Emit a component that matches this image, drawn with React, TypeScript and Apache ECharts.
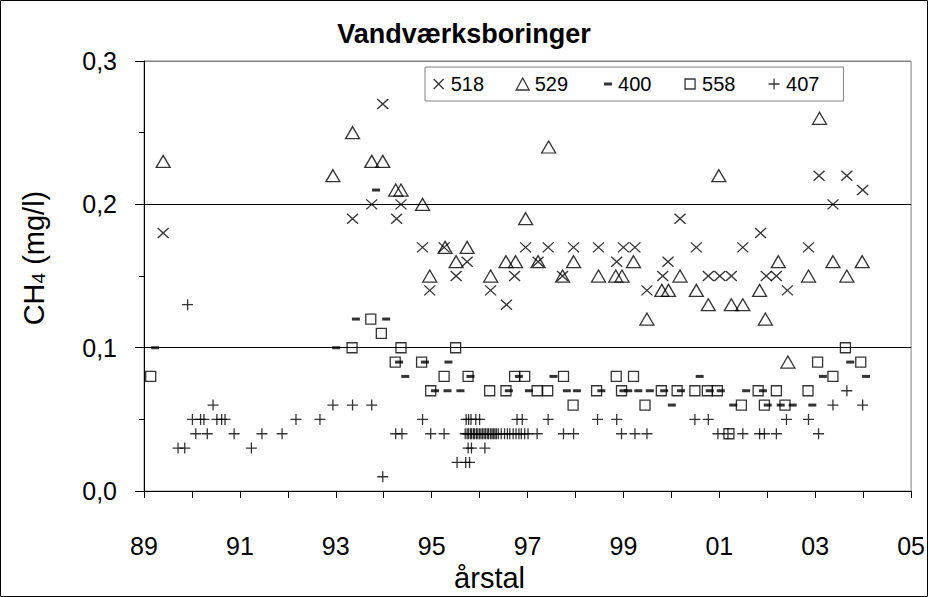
import React, { useEffect, useRef } from 'react';
import * as echarts from 'echarts';

// Measurements per well: [year, CH4 mg/l]
const well518: [number, number][] = [
  [1989.40, 0.18], [1993.35, 0.19], [1993.75, 0.20], [1993.98, 0.27], [1994.27, 0.19],
  [1994.36, 0.20], [1994.81, 0.17], [1994.96, 0.14], [1995.26, 0.17], [1995.51, 0.15],
  [1995.74, 0.16], [1996.23, 0.14], [1996.56, 0.13], [1996.73, 0.15], [1996.96, 0.17],
  [1997.22, 0.16], [1997.43, 0.17], [1997.73, 0.15], [1997.96, 0.17], [1998.48, 0.17],
  [1998.86, 0.16], [1999.00, 0.17], [1999.24, 0.17], [1999.49, 0.14], [1999.82, 0.15],
  [1999.93, 0.16], [2000.18, 0.19], [2000.52, 0.17], [2000.77, 0.15], [2001.01, 0.15],
  [2001.25, 0.15], [2001.49, 0.17], [2001.86, 0.18], [2001.98, 0.15], [2002.19, 0.15],
  [2002.42, 0.14], [2002.86, 0.17], [2003.08, 0.22], [2003.37, 0.20], [2003.66, 0.22],
  [2003.99, 0.21],
];

const well529: [number, number][] = [
  [1989.40, 0.23], [1992.94, 0.22], [1993.35, 0.25], [1993.75, 0.23], [1993.98, 0.23],
  [1994.25, 0.21], [1994.36, 0.21], [1994.81, 0.20], [1994.96, 0.15], [1995.28, 0.17],
  [1995.51, 0.16], [1995.74, 0.17], [1996.23, 0.15], [1996.55, 0.16], [1996.75, 0.16],
  [1996.96, 0.19], [1997.22, 0.16], [1997.44, 0.24], [1997.73, 0.15], [1997.96, 0.16],
  [1998.48, 0.15], [1998.84, 0.15], [1998.97, 0.15], [1999.21, 0.16], [1999.49, 0.12],
  [1999.80, 0.14], [1999.94, 0.14], [2000.18, 0.15], [2000.52, 0.14], [2000.77, 0.13],
  [2000.99, 0.22], [2001.25, 0.13], [2001.49, 0.13], [2001.84, 0.14], [2001.96, 0.12],
  [2002.23, 0.16], [2002.43, 0.09], [2002.86, 0.15], [2003.09, 0.26], [2003.37, 0.16],
  [2003.66, 0.15], [2003.98, 0.16],
];

const well400: [number, number][] = [
  [1989.23, 0.10], [1993.01, 0.10], [1993.42, 0.12], [1993.84, 0.21], [1994.05, 0.12],
  [1994.32, 0.09], [1994.45, 0.08], [1994.86, 0.09], [1995.07, 0.07], [1995.33, 0.07],
  [1995.35, 0.09], [1995.60, 0.07], [1995.81, 0.08], [1996.61, 0.07], [1996.82, 0.08],
  [1997.03, 0.07], [1997.54, 0.08], [1997.82, 0.07], [1998.03, 0.07], [1998.54, 0.07],
  [1999.00, 0.07], [1999.10, 0.07], [1999.31, 0.07], [1999.55, 0.07], [1999.85, 0.07],
  [2000.01, 0.06], [2000.20, 0.07], [2000.59, 0.08], [2000.80, 0.07], [2001.03, 0.07],
  [2001.29, 0.06], [2001.56, 0.07], [2001.91, 0.07], [2002.01, 0.06], [2002.28, 0.06],
  [2002.53, 0.06], [2002.94, 0.06], [2003.16, 0.08], [2003.73, 0.09], [2004.06, 0.08],
];

const well558: [number, number][] = [
  [1989.14, 0.08], [1993.34, 0.10], [1993.73, 0.12], [1993.95, 0.11], [1994.24, 0.09],
  [1994.36, 0.10], [1994.79, 0.09], [1994.98, 0.07], [1995.26, 0.08], [1995.50, 0.10],
  [1995.76, 0.08], [1996.21, 0.07], [1996.55, 0.07], [1996.73, 0.08], [1996.94, 0.08],
  [1997.20, 0.07], [1997.42, 0.07], [1997.75, 0.08], [1997.95, 0.06], [1998.44, 0.07],
  [1998.85, 0.08], [1998.96, 0.07], [1999.21, 0.08], [1999.45, 0.06], [1999.79, 0.07],
  [2000.12, 0.07], [2000.49, 0.07], [2000.75, 0.07], [2000.96, 0.07], [2001.20, 0.04],
  [2001.46, 0.06], [2001.81, 0.07], [2001.94, 0.06], [2002.19, 0.07], [2002.37, 0.06],
  [2002.85, 0.07], [2003.05, 0.09], [2003.37, 0.08], [2003.63, 0.10], [2003.95, 0.09],
];

const well407: [number, number][] = [
  [1989.71, 0.03], [1989.85, 0.03], [1989.91, 0.13], [1990.01, 0.05], [1990.08, 0.04],
  [1990.18, 0.05], [1990.25, 0.05], [1990.32, 0.04], [1990.44, 0.06], [1990.52, 0.05],
  [1990.62, 0.05], [1990.69, 0.05], [1990.88, 0.04], [1991.24, 0.03], [1991.46, 0.04],
  [1991.88, 0.04], [1992.17, 0.05], [1992.67, 0.05], [1992.94, 0.06], [1993.35, 0.06],
  [1993.75, 0.06], [1993.98, 0.01], [1994.25, 0.04], [1994.38, 0.04], [1994.81, 0.05],
  [1994.98, 0.04], [1995.26, 0.04], [1995.53, 0.02], [1995.71, 0.02], [1995.79, 0.02],
  [1995.76, 0.03], [1995.83, 0.03], [1996.11, 0.03], [1995.72, 0.05], [1995.77, 0.05],
  [1995.82, 0.05], [1995.92, 0.05], [1996.00, 0.05],
  [1995.70, 0.04], [1995.74, 0.04], [1995.77, 0.04], [1995.81, 0.04], [1995.83, 0.04],
  [1995.87, 0.04], [1995.89, 0.04], [1995.93, 0.04], [1995.95, 0.04], [1995.99, 0.04],
  [1996.01, 0.04], [1996.05, 0.04], [1996.07, 0.04], [1996.11, 0.04], [1996.13, 0.04],
  [1996.17, 0.04], [1996.19, 0.04], [1996.23, 0.04], [1996.26, 0.04], [1996.29, 0.04],
  [1996.32, 0.04], [1996.35, 0.04], [1996.39, 0.04], [1996.45, 0.04], [1996.52, 0.04],
  [1996.58, 0.04], [1996.63, 0.04], [1996.70, 0.04], [1996.76, 0.04], [1996.82, 0.04],
  [1996.87, 0.04], [1996.94, 0.04], [1997.01, 0.04],
  [1996.78, 0.05], [1996.89, 0.05], [1997.20, 0.04], [1997.43, 0.05], [1997.75, 0.04],
  [1997.96, 0.04], [1998.46, 0.05], [1998.86, 0.05], [1998.96, 0.04], [1999.24, 0.04],
  [1999.49, 0.04], [2000.49, 0.05], [2000.77, 0.05], [2000.97, 0.04], [2001.18, 0.04],
  [2001.49, 0.04], [2001.84, 0.04], [2001.94, 0.04], [2002.19, 0.04], [2002.40, 0.05],
  [2002.86, 0.05], [2003.07, 0.04], [2003.37, 0.06], [2003.66, 0.07], [2003.99, 0.06],
];

const seriesNames = ['518', '529', '400', '558', '407'];
const xTickLabels = ['89', '91', '93', '95', '97', '99', '01', '03', '05'];
const yTickLabels = ['0,0', '0,1', '0,2', '0,3'];

const FONT = '"Liberation Sans", Arial, sans-serif';

const CROSS = 'path://M0,0L10,10M10,0L0,10';
const PLUS = 'path://M5,0L5,10M0,5L10,5';

const CROSS_ICON = 'path://M0,0M14,14M2,2L12,12M12,2L2,12';
const TRI_ICON = 'path://M0,0M14,14M7,1L13.5,13L0.5,13Z';
const DASH_ICON = 'path://M0,0M14,14M5,5.5L13,5.5L13,8.5L5,8.5Z';
const SQ_ICON = 'path://M0,0M14,14M2,2L12,2L12,12L2,12Z';
const PLUS_ICON = 'path://M0,0M14,14M7,1.5L7,12.5M1.5,7L12.5,7';

export default function App() {
  const ref = useRef<HTMLDivElement>(null);

  useEffect(() => {
    if (!ref.current) return;
    const chart = echarts.init(ref.current, null, { renderer: 'svg' });

    const hollow = { color: 'rgba(0,0,0,0)', borderColor: '#000', borderWidth: 1.3 };
    const solid = { color: '#000', borderWidth: 0 };

    chart.setOption({
      animation: false,
      backgroundColor: '#fff',
      title: {
        text: 'Vandværksboringer',
        left: 'center',
        top: 15,
        textStyle: { fontFamily: FONT, fontWeight: 'bold', fontSize: 27, color: '#000' },
      },
      legend: {
        left: 425,
        top: 67,
        orient: 'horizontal',
        backgroundColor: '#fff',
        borderColor: '#808080',
        borderWidth: 1,
        borderRadius: 0,
        padding: [7, 24, 7, 6],
        itemGap: 31,
        itemWidth: 14,
        itemHeight: 14,
        textStyle: { fontFamily: FONT, fontSize: 20, color: '#000' },
        data: [
          { name: seriesNames[0], icon: CROSS_ICON, itemStyle: hollow },
          { name: seriesNames[1], icon: TRI_ICON, itemStyle: hollow },
          { name: seriesNames[2], icon: DASH_ICON, itemStyle: solid },
          { name: seriesNames[3], icon: SQ_ICON, itemStyle: hollow },
          { name: seriesNames[4], icon: PLUS_ICON, itemStyle: hollow },
        ],
      },
      graphic: [
        {
          type: 'rect',
          shape: { x: 0.5, y: 0.5, width: 927, height: 596 },
          style: { fill: 'none', stroke: '#000', lineWidth: 1 },
          silent: true,
          z: -1,
        },
      ],
      grid: {
        left: 144,
        right: 14,
        top: 61,
        bottom: 101,
        show: true,
        borderColor: '#808080',
        borderWidth: 1,
        backgroundColor: 'transparent',
      },
      xAxis: {
        type: 'value',
        min: 1989,
        max: 2005,
        interval: 1,
        name: 'årstal',
        nameLocation: 'middle',
        nameGap: 64,
        nameTextStyle: {
          fontFamily: FONT,
          fontSize: 29,
          color: '#000',
          padding: [0, 76, 0, 0],
        },
        axisLine: { show: true, onZero: false, lineStyle: { color: '#000', width: 1 } },
        axisTick: { show: true, length: 7, lineStyle: { color: '#000' } },
        axisLabel: {
          margin: 42,
          fontFamily: FONT,
          fontSize: 25,
          color: '#000',
          showMinLabel: true,
          showMaxLabel: true,
          formatter: (v: number) => {
            const k = Math.round(v) - 1989;
            return k % 2 === 0 ? xTickLabels[k / 2] : '';
          },
        },
        splitLine: { show: false },
      },
      yAxis: {
        type: 'value',
        min: 0,
        max: 0.3,
        interval: 0.1,
        name: '{a|CH}{b|4}{a| (mg/l)}',
        nameLocation: 'middle',
        nameGap: 96,
        nameRotate: 90,
        nameTextStyle: {
          fontFamily: FONT,
          color: '#000',
          padding: [0, 0, 0, 36],
          rich: {
            a: { fontFamily: FONT, fontSize: 29, color: '#000', verticalAlign: 'bottom', lineHeight: 32 },
            b: { fontFamily: FONT, fontSize: 19, color: '#000', verticalAlign: 'bottom', lineHeight: 25 },
          },
        },
        axisLine: { show: true, lineStyle: { color: '#000', width: 1 } },
        axisTick: { show: true, length: 9, lineStyle: { color: '#000' } },
        minorTick: { show: true, splitNumber: 2, length: 5, lineStyle: { color: '#000' } },
        axisLabel: {
          margin: 27,
          fontFamily: FONT,
          fontSize: 25,
          color: '#000',
          formatter: (v: number) => yTickLabels[Math.round(v * 10)],
        },
        splitLine: {
          show: true,
          lineStyle: { color: ['#000', '#000', '#000', '#808080'], width: 1 },
        },
      },
      series: [
        {
          name: seriesNames[0],
          type: 'scatter',
          data: well518,
          symbol: CROSS,
          symbolSize: [11, 10],
          itemStyle: hollow,
        },
        {
          name: seriesNames[1],
          type: 'scatter',
          data: well529,
          symbol: 'triangle',
          symbolSize: [14, 12],
          itemStyle: hollow,
        },
        {
          name: seriesNames[2],
          type: 'scatter',
          data: well400,
          symbol: 'rect',
          symbolSize: [8, 3],
          itemStyle: solid,
        },
        {
          name: seriesNames[3],
          type: 'scatter',
          data: well558,
          symbol: 'rect',
          symbolSize: [10, 10],
          itemStyle: hollow,
        },
        {
          name: seriesNames[4],
          type: 'scatter',
          data: well407,
          symbol: PLUS,
          symbolSize: [11, 11],
          itemStyle: hollow,
        },
      ],
    });

    return () => chart.dispose();
  }, []);

  return (
    <div
      ref={ref}
      style={{ position: 'fixed', left: 0, top: 0, width: 928, height: 597 }}
    />
  );
}
